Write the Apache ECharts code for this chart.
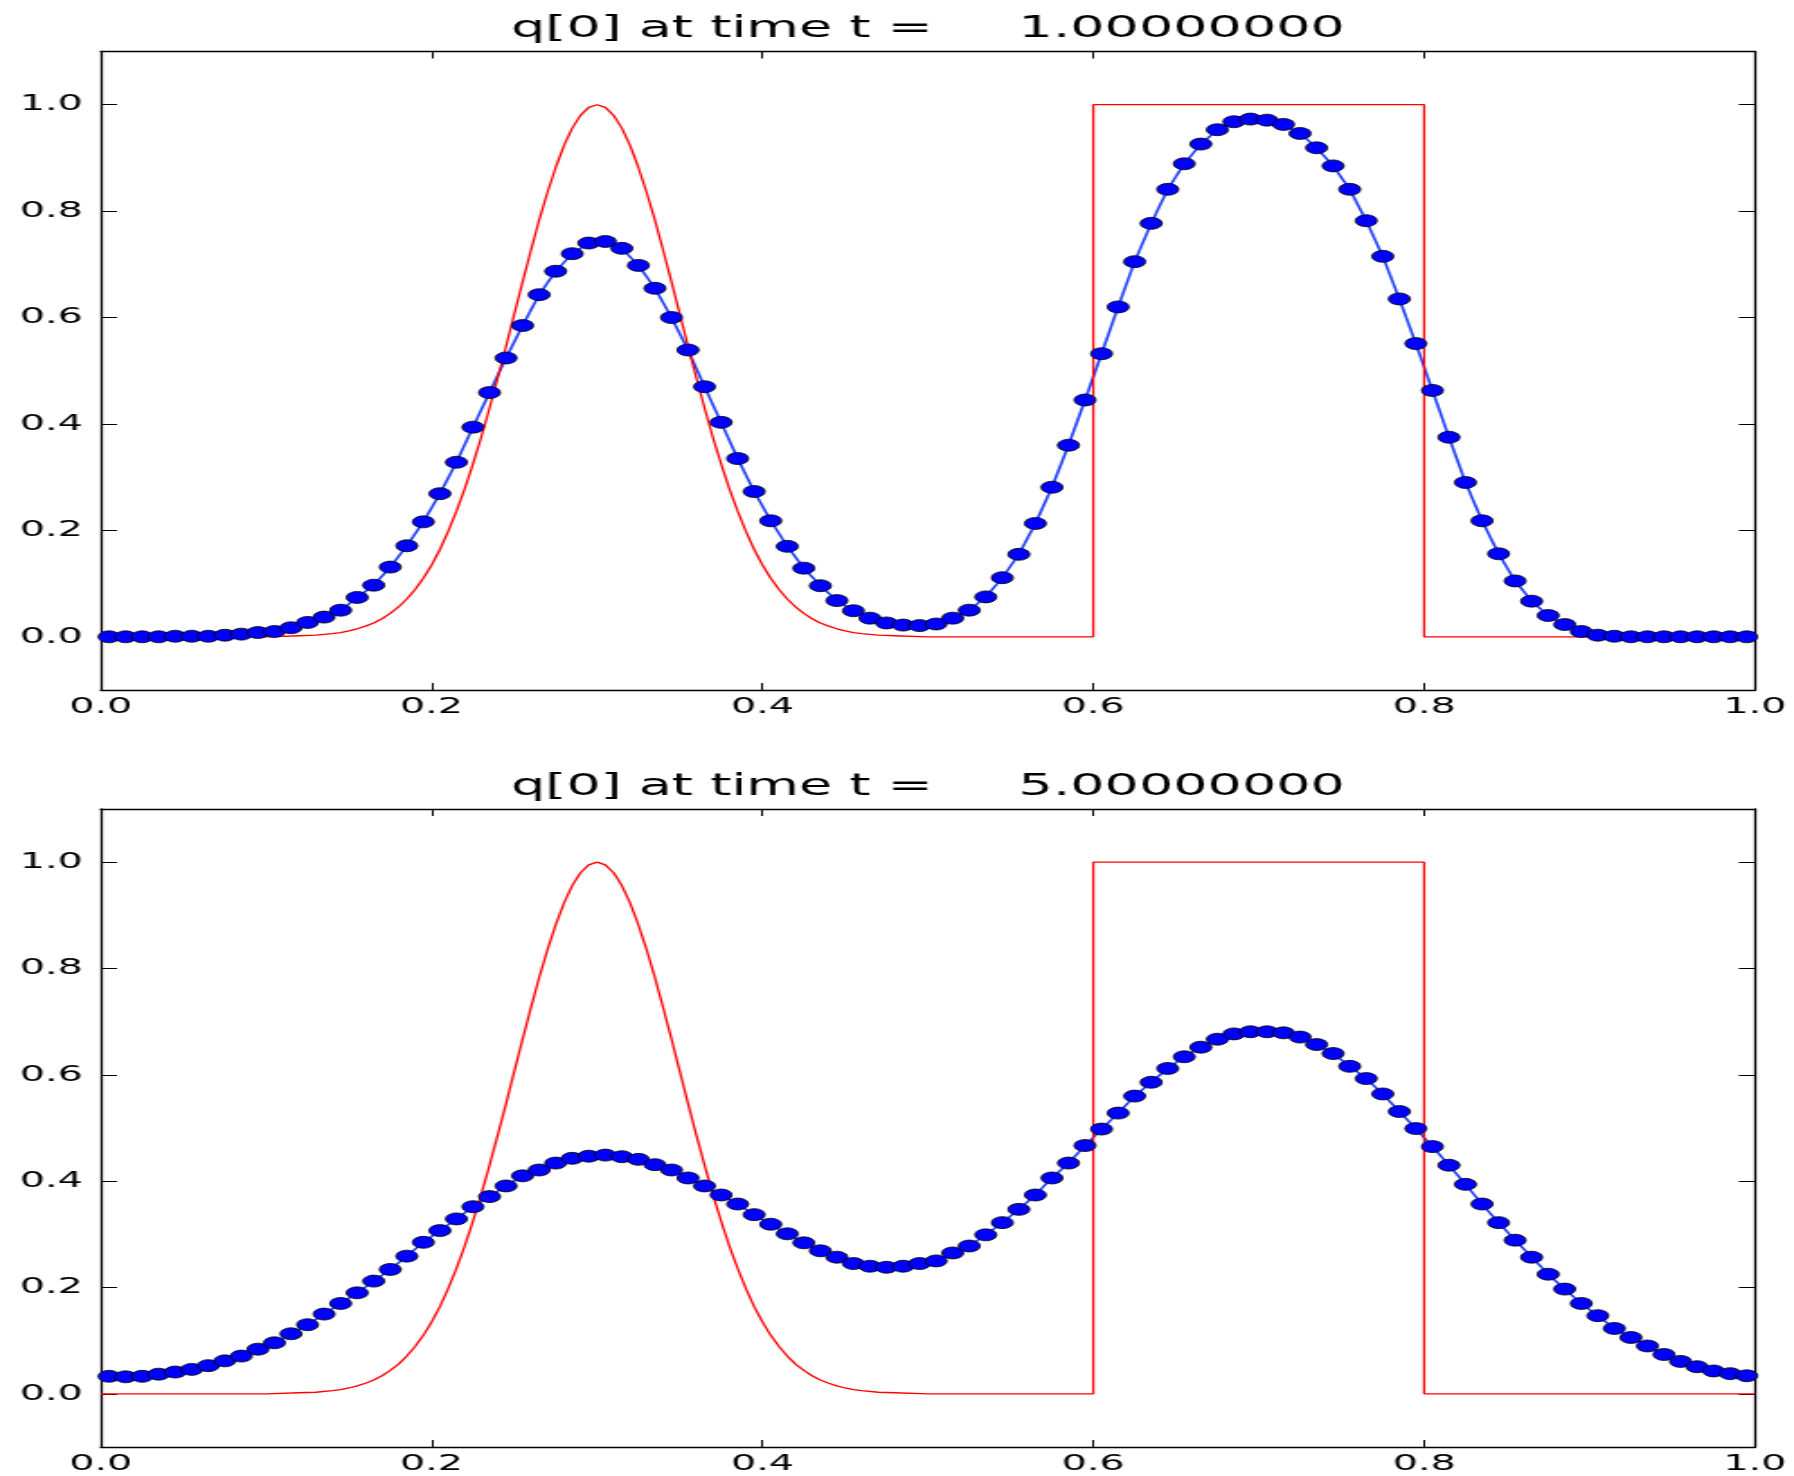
<!DOCTYPE html>
<html>
<head>
<meta charset="utf-8">
<script src="https://cdn.jsdelivr.net/npm/echarts@6/dist/echarts.min.js"></script>
<style>
html,body{margin:0;padding:0;background:#fff;overflow:hidden}
/* the reference figure is stretched sideways, so the chart is drawn narrow and widened */
#chart{width:997px;height:1476px;transform:scaleX(1.7994);transform-origin:0 0}
</style>
</head>
<body>
<div id="chart"></div>
<script>
// ========= data =========
const titles = ["q[0] at time t =     1.00000000", "q[0] at time t =     5.00000000"];
const xTicks = [0, 0.2, 0.4, 0.6, 0.8, 1.0];
const yTicks = [0, 0.2, 0.4, 0.6, 0.8, 1.0];

// cell centres
const cellX = [
  0.005,0.015,0.025,0.035,0.045,0.055,0.065,0.075,0.085,0.095,
  0.105,0.115,0.125,0.135,0.145,0.155,0.165,0.175,0.185,0.195,
  0.205,0.215,0.225,0.235,0.245,0.255,0.265,0.275,0.285,0.295,
  0.305,0.315,0.325,0.335,0.345,0.355,0.365,0.375,0.385,0.395,
  0.405,0.415,0.425,0.435,0.445,0.455,0.465,0.475,0.485,0.495,
  0.505,0.515,0.525,0.535,0.545,0.555,0.565,0.575,0.585,0.595,
  0.605,0.615,0.625,0.635,0.645,0.655,0.665,0.675,0.685,0.695,
  0.705,0.715,0.725,0.735,0.745,0.755,0.765,0.775,0.785,0.795,
  0.805,0.815,0.825,0.835,0.845,0.855,0.865,0.875,0.885,0.895,
  0.905,0.915,0.925,0.935,0.945,0.955,0.965,0.975,0.985,0.995
];

// computed q at t = 1
const qT1 = [
  0.000,0.000,0.000,0.000,0.001,0.001,0.001,0.003,0.005,0.008,
  0.010,0.017,0.027,0.037,0.050,0.074,0.097,0.131,0.171,0.216,
  0.269,0.328,0.394,0.459,0.524,0.585,0.643,0.687,0.720,0.740,
  0.743,0.730,0.698,0.655,0.600,0.539,0.470,0.403,0.335,0.273,
  0.218,0.170,0.129,0.096,0.068,0.049,0.035,0.026,0.022,0.021,
  0.024,0.035,0.050,0.075,0.111,0.155,0.213,0.281,0.360,0.445,
  0.532,0.620,0.705,0.777,0.841,0.889,0.926,0.953,0.968,0.973,
  0.971,0.963,0.946,0.919,0.885,0.841,0.782,0.715,0.635,0.551,
  0.463,0.375,0.290,0.218,0.156,0.105,0.067,0.040,0.023,0.010,
  0.003,0.001,0.000,0.000,0.000,0.000,0.000,0.000,0.000,0.000
];

// computed q at t = 5
const qT5 = [
  0.033,0.032,0.033,0.037,0.041,0.046,0.053,0.062,0.071,0.084,
  0.096,0.113,0.130,0.150,0.170,0.190,0.212,0.234,0.259,0.285,
  0.307,0.329,0.352,0.371,0.391,0.410,0.421,0.434,0.443,0.447,
  0.449,0.446,0.441,0.431,0.421,0.406,0.391,0.374,0.357,0.337,
  0.319,0.301,0.284,0.269,0.257,0.245,0.240,0.238,0.240,0.245,
  0.250,0.265,0.278,0.299,0.322,0.347,0.374,0.406,0.434,0.467,
  0.498,0.528,0.560,0.586,0.612,0.634,0.652,0.667,0.677,0.681,
  0.681,0.679,0.671,0.657,0.640,0.616,0.593,0.564,0.531,0.499,
  0.465,0.430,0.394,0.357,0.322,0.289,0.257,0.225,0.197,0.170,
  0.147,0.123,0.106,0.090,0.074,0.061,0.051,0.043,0.038,0.034
];

// true solution (red line), same in both panels
const trueX = [
  0.00,0.05,0.10,0.12,0.13,0.14,0.145,
  0.150,0.155,0.160,0.165,0.170,0.175,0.180,0.185,0.190,0.195,
  0.200,0.205,0.210,0.215,0.220,0.225,0.230,0.235,0.240,0.245,
  0.250,0.255,0.260,0.265,0.270,0.275,0.280,0.285,0.290,0.295,
  0.300,0.305,0.310,0.315,0.320,0.325,0.330,0.335,0.340,0.345,
  0.350,0.355,0.360,0.365,0.370,0.375,0.380,0.385,0.390,0.395,
  0.400,0.405,0.410,0.415,0.420,0.425,0.430,0.435,0.440,0.445,
  0.450,0.455,0.46,0.47,0.48,0.50,0.55,
  0.60,0.60,0.80,0.80,0.85,0.90,0.95,1.00
];
const trueQ = [
  0.000,0.000,0.000,0.002,0.003,0.006,0.008,
  0.011,0.015,0.020,0.026,0.034,0.044,0.056,0.071,0.089,0.110,
  0.135,0.164,0.198,0.236,0.278,0.325,0.375,0.430,0.487,0.546,
  0.607,0.667,0.726,0.783,0.835,0.882,0.923,0.956,0.980,0.995,
  1.000,0.995,0.980,0.956,0.923,0.882,0.835,0.783,0.726,0.667,
  0.607,0.546,0.487,0.430,0.375,0.325,0.278,0.236,0.198,0.164,
  0.135,0.110,0.089,0.071,0.056,0.044,0.034,0.026,0.020,0.015,
  0.011,0.008,0.006,0.003,0.002,0.000,0.000,
  0.000,1.000,1.000,0.000,0.000,0.000,0.000,0.000
];

// ========= helpers =========
const FONT = "DejaVu Sans";
const fmt = v => Number(v).toFixed(1);
const pairs = (xs, ys) => xs.map((x, i) => [x, ys[i]]);

function xAxisFor(grid, pos){
  return {
    type: "value", gridIndex: grid, position: pos,
    min: 0, max: 1, interval: 0.2,
    axisLine: {show: true, onZero: false, lineStyle: {color: "#000", width: 1.3}},
    axisTick: {show: true, inside: true, length: 7, customValues: xTicks, lineStyle: {color: "#000", width: 1}},
    axisLabel: {show: pos === "bottom", customValues: xTicks, formatter: fmt, fontFamily: FONT, fontSize: 22, color: "#000", margin: 6},
    splitLine: {show: false}
  };
}
function yAxisFor(grid, pos){
  return {
    type: "value", gridIndex: grid, position: pos,
    min: -0.1, max: 1.1,
    axisLine: {show: true, onZero: false, lineStyle: {color: "#000", width: 1.3}},
    axisTick: {show: true, inside: true, length: 9, customValues: yTicks, lineStyle: {color: "#000", width: 1}},
    axisLabel: {show: pos === "left", customValues: yTicks, formatter: fmt, fontFamily: FONT, fontSize: 22, color: "#000", margin: 10},
    splitLine: {show: false}
  };
}
function computed(idx, qs){
  return {
    type: "line", xAxisIndex: idx * 2, yAxisIndex: idx * 2,
    data: pairs(cellX, qs),
    symbol: "circle", symbolSize: 12, showAllSymbol: true,
    lineStyle: {color: "#2040ff", width: 1.6},
    itemStyle: {color: "#0000ff", borderColor: "#000", borderWidth: 0.8},
    silent: true
  };
}
function exact(idx){
  return {
    type: "line", xAxisIndex: idx * 2, yAxisIndex: idx * 2,
    data: pairs(trueX, trueQ),
    showSymbol: false,
    lineStyle: {color: "#ff0000", width: 1.3},
    silent: true
  };
}

// ========= chart =========
const chart = echarts.init(document.getElementById("chart"), null, {renderer: "canvas"});
const titleX = 56 + 919.3 / 2 - 5;

chart.setOption({
  animation: false,
  backgroundColor: "#fff",
  title: titles.map((t, i) => ({
    text: t, left: titleX, top: i === 0 ? 9 : 767, textAlign: "center",
    textStyle: {fontFamily: FONT, fontSize: 30, fontWeight: "normal", color: "#000"}
  })),
  grid: [
    {left: 56, right: 21.7, top: 51.5, height: 638.5},
    {left: 56, right: 21.7, top: 809, height: 638}
  ],
  xAxis: [xAxisFor(0, "bottom"), xAxisFor(0, "top"), xAxisFor(1, "bottom"), xAxisFor(1, "top")],
  yAxis: [yAxisFor(0, "left"), yAxisFor(0, "right"), yAxisFor(1, "left"), yAxisFor(1, "right")],
  series: [computed(0, qT1), exact(0), computed(1, qT5), exact(1)]
});
</script>
</body>
</html>
